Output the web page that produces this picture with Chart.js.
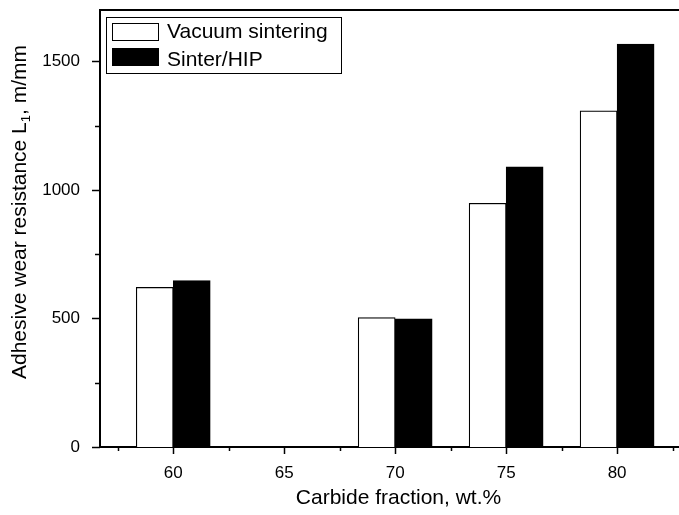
<!DOCTYPE html>
<html>
<head>
<meta charset="utf-8">
<script src="https://cdn.jsdelivr.net/npm/chart.js@4.4.0/dist/chart.umd.min.js"></script>
<style>
  html, body { margin: 0; padding: 0; background: #fff; overflow: hidden; }
  #chdiv { width: 700px; height: 515px; }
</style>
</head>
<body>
<div id="chdiv"><canvas id="wearchart" width="700" height="515"></canvas></div>
<script>
// data
const carbideFraction = [60, 70, 75, 80];
const vacuumSintering = [621, 503, 948, 1308];
const sinterHip = [647, 499, 1090, 1567];
const seriesNames = ['Vacuum sintering', 'Sinter/HIP'];
const xTicks = [60, 65, 70, 75, 80];
const yTicks = [0, 500, 1000, 1500];
const xTitle = 'Carbide fraction, wt.%';
const yTitle = ['Adhesive wear resistance L', '1', ', m/mm'];

const FONT = '"Liberation Sans", Arial, Helvetica, sans-serif';

// tick marks (major + minor), top frame line, legend box, y title
const decor = {
    id: 'decor',
    afterDraw(chart) {
        const ctx = chart.ctx;
        const area = chart.chartArea;
        const xs = chart.scales.x, ys = chart.scales.y;
        ctx.save();
        ctx.strokeStyle = '#000';
        ctx.fillStyle = '#000';

        // top frame
        ctx.lineWidth = 2;
        ctx.beginPath();
        ctx.moveTo(area.left - 1, area.top);
        ctx.lineTo(area.right + 1, area.top);
        ctx.stroke();

        ctx.lineWidth = 1.5;
        // x ticks
        for (let v = 57.5; v <= xs.max; v += 2.5) {
            const px = Math.round(xs.getPixelForValue(v)) + 0.5;
            const len = xTicks.includes(v) ? 7 : 4;
            ctx.beginPath();
            ctx.moveTo(px, area.bottom);
            ctx.lineTo(px, area.bottom + len);
            ctx.stroke();
        }
        // y ticks
        for (let v = 0; v <= ys.max; v += 250) {
            const py = Math.round(ys.getPixelForValue(v)) + 0.5;
            const len = yTicks.includes(v) ? 8 : 5;
            ctx.beginPath();
            ctx.moveTo(area.left, py);
            ctx.lineTo(area.left - len, py);
            ctx.stroke();
        }

        // legend
        ctx.lineWidth = 1;
        ctx.strokeRect(106.5, 17.5, 235, 56);
        const ds = chart.data.datasets;
        ctx.font = '21px ' + FONT;
        ctx.textBaseline = 'alphabetic';
        ctx.textAlign = 'left';
        [[23, 38], [48, 66]].forEach(([top, base], i) => {
            ctx.fillStyle = ds[i].backgroundColor;
            ctx.fillRect(112.5, top + 0.5, 46, 17);
            ctx.strokeRect(112.5, top + 0.5, 46, 17);
            ctx.fillStyle = '#000';
            ctx.fillText(ds[i].label, 167, base);
        });

        // y title with subscript
        ctx.translate(26, 212);
        ctx.rotate(-Math.PI / 2);
        const big = '21px ' + FONT, small = '13px ' + FONT;
        ctx.font = big;
        const w0 = ctx.measureText(yTitle[0]).width;
        const w2 = ctx.measureText(yTitle[2]).width;
        ctx.font = small;
        const w1 = ctx.measureText(yTitle[1]).width;
        let x = -(w0 + w1 + w2) / 2;
        ctx.font = big;
        ctx.fillText(yTitle[0], x, 0);
        x += w0;
        ctx.font = small;
        ctx.fillText(yTitle[1], x, 4);
        x += w1;
        ctx.font = big;
        ctx.fillText(yTitle[2], x, 0);
        ctx.restore();
    }
};

new Chart(document.getElementById('wearchart').getContext('2d'), {
    type: 'bar',
    data: {
        datasets: [
            {
                label: seriesNames[0],
                data: carbideFraction.map((c, i) => ({x: c, y: vacuumSintering[i]})),
                backgroundColor: '#ffffff',
                borderColor: '#000000',
                borderWidth: 1.2
            },
            {
                label: seriesNames[1],
                data: carbideFraction.map((c, i) => ({x: c, y: sinterHip[i]})),
                backgroundColor: '#000000',
                borderColor: '#000000',
                borderWidth: 1
            }
        ]
    },
    options: {
        responsive: false,
        animation: false,
        events: [],
        layout: {padding: {left: 0, top: 10, right: 3, bottom: 0}},
        datasets: {bar: {barThickness: 37}},
        plugins: {legend: {display: false}, tooltip: {enabled: false}},
        scales: {
            x: {
                type: 'linear',
                min: 56.7,
                max: 83.6,
                offset: false,
                grid: {display: false, drawTicks: false, offset: false},
                border: {display: true, color: '#000', width: 2},
                afterBuildTicks: (s) => { s.ticks = xTicks.map(v => ({value: v})); },
                afterFit: (s) => { s.height = 68; s.paddingLeft = 0; s.paddingRight = 0; },
                ticks: {
                    color: '#000',
                    padding: 16,
                    maxRotation: 0,
                    font: {family: FONT, size: 17},
                    callback: (v) => String(v)
                },
                title: {
                    display: true,
                    text: xTitle,
                    color: '#000',
                    font: {family: FONT, size: 21},
                    padding: {top: 0, bottom: 4}
                }
            },
            y: {
                type: 'linear',
                min: 0,
                max: 1700,
                grid: {display: false, drawTicks: false},
                border: {display: true, color: '#000', width: 2},
                afterBuildTicks: (s) => { s.ticks = yTicks.map(v => ({value: v})); },
                afterFit: (s) => { s.width = 100; s.paddingTop = 0; s.paddingBottom = 0; },
                ticks: {
                    color: '#000',
                    padding: 20,
                    font: {family: FONT, size: 17},
                    callback: (v) => String(v)
                }
            }
        }
    },
    plugins: [decor]
});
</script>
</body>
</html>
